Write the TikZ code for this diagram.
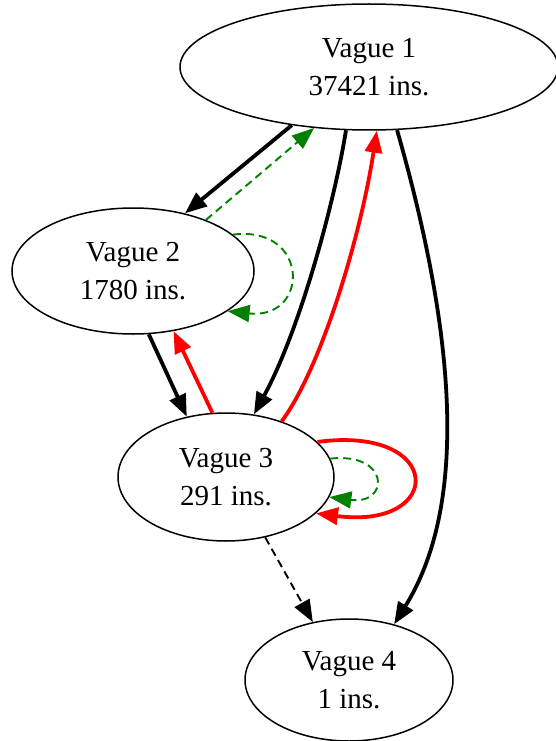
\documentclass[tikz,border=0pt]{standalone}
\usepackage{fontspec}
\setmainfont{Liberation Serif}
\usetikzlibrary{shapes.geometric,arrows.meta}
\definecolor{gvgreen}{RGB}{0,128,0}
\definecolor{gvred}{RGB}{255,0,0}
\begin{document}
\begin{tikzpicture}[x=1pt,y=-1pt,
  vnode/.style={ellipse,draw,line width=1.5pt,inner sep=0pt,align=center,font=\fontsize{29}{38}\selectfont},
  tipbig/.style={-{Triangle[length=22pt,width=17pt]}},
  blackedge/.style={tipbig,line width=3.8pt,black},
  rededge/.style={tipbig,line width=3.8pt,gvred},
  greenedge/.style={tipbig,line width=1.9pt,gvgreen,dash pattern=on 8pt off 5pt},
  dashedge/.style={tipbig,line width=1.9pt,black,dash pattern=on 8pt off 5pt}
]
\useasboundingbox (0,0) rectangle (556,741);
\node[vnode,minimum width=378pt,minimum height=126pt] (v1) at (369,67) {Vague 1\\37421 ins.};
\node[vnode,minimum width=242pt,minimum height=126pt] (v2) at (133,271) {Vague 2\\1780 ins.};
\node[vnode,minimum width=216pt,minimum height=128pt] (v3) at (226,477) {Vague 3\\291 ins.};
\node[vnode,minimum width=208pt,minimum height=122pt] (v4) at (349,680) {Vague 4\\1 ins.};

% V1 -> V2
\draw[blackedge] (v1.217.9) -- (v2.48.6);
% V2 -> V1
\draw[greenedge] (v2.35.3) -- (v1.228.5);
% V2 self loop
\draw[greenedge] (v2.20.9) .. controls (310,225) and (310,320) .. (v2.-23.3);
% V1 -> V3
\draw[blackedge] (v1.250.7) .. controls (335,200) and (300,330) .. (v3.66.4);
% V3 -> V1
\draw[rededge] (v3.45) .. controls (320,370) and (360,240) .. (v1.277.5);
% V1 -> V4
\draw[blackedge] (v1.294) .. controls (460,350) and (465,510) .. (v4.51.3);
% V2 -> V3
\draw[blackedge] (v2.-76.8) -- (v3.123.3);
% V3 -> V2
\draw[rededge] (v3.102.3) -- (v2.-56.3);
% V3 self loops
\draw[rededge] (v3.21.6) .. controls (445,425) and (445,530) .. (v3.-22.9);
\draw[greenedge] (v3.10.4) .. controls (390,452) and (390,505) .. (v3.-11.3);
% V3 -> V4
\draw[dashedge] (v3.-57.6) -- (v4.122.3);
\end{tikzpicture}
\end{document}
